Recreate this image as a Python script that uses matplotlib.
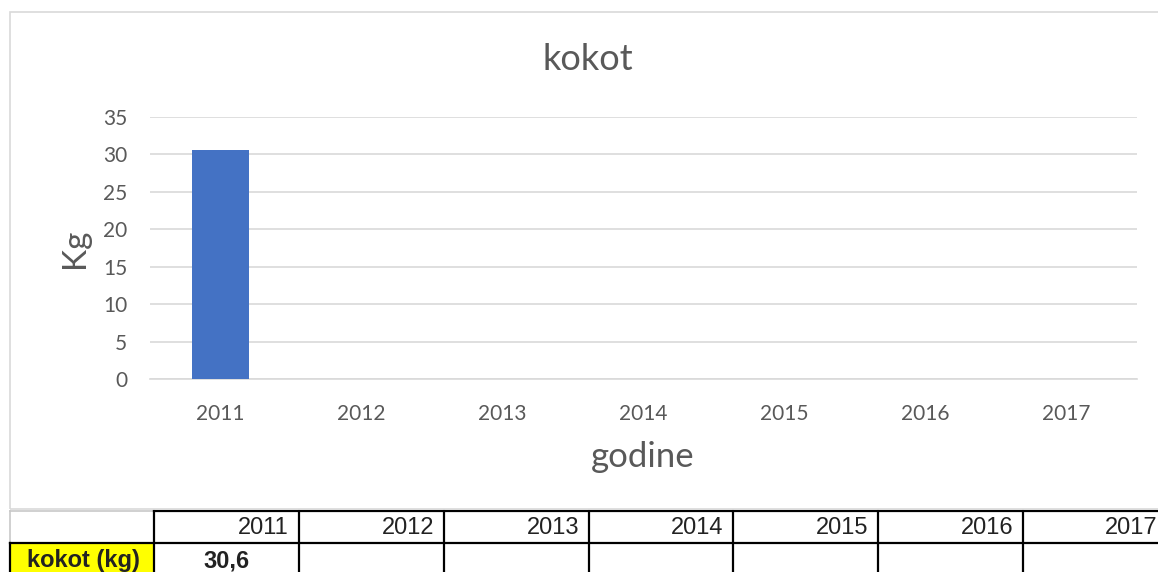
import matplotlib
matplotlib.use('Agg')
import matplotlib.pyplot as plt
from matplotlib.patches import Rectangle

# data
years = ['2011', '2012', '2013', '2014', '2015', '2016', '2017']
kokot_kg = [30.6, None, None, None, None, None, None]
title = 'kokot'
row_label = 'kokot (kg)'
y_ticks = [0, 5, 10, 15, 20, 25, 30, 35]

W, H = 1158, 572
fig = plt.figure(figsize=(W / 100, H / 100), dpi=100)
grey_txt = '#595959'
grid_c = '#d9d9d9'

# chart border (light grey box)
fig.patches.append(Rectangle((10 / W, (H - 509) / H), 1.2, (509 - 12) / H,
                             transform=fig.transFigure, fill=False,
                             edgecolor=grid_c, linewidth=1.2))

# plot area
x0, x1, ytop, ybot = 150, 1137, 117, 379
ax = fig.add_axes([x0 / W, (H - ybot) / H, (x1 - x0) / W, (ybot - ytop) / H])
xs = list(range(len(years)))
vals = [v if v is not None else 0 for v in kokot_kg]
ax.bar(xs, vals, width=0.4, color='#4472c4', zorder=3)
ax.set_xlim(-0.5, len(years) - 0.5)
ax.set_ylim(0, 35)
ax.set_yticks(y_ticks)
ax.set_xticks(xs)
ax.set_xticklabels(years)
ax.grid(axis='y', color=grid_c, linewidth=1.2, zorder=0)
for s in ['top', 'right', 'left']:
    ax.spines[s].set_visible(False)
ax.spines['bottom'].set_color(grid_c)
ax.spines['bottom'].set_linewidth(1.2)
ax.tick_params(length=0, labelsize=15, labelcolor=grey_txt)
ax.tick_params(axis='y', pad=16.5)
ax.tick_params(axis='x', pad=18)
for lab in ax.get_xticklabels() + ax.get_yticklabels():
    lab.set_fontfamily('Lato')

fig.text(588 / W, 1 - 60 / H, title, ha='center', va='center',
         fontsize=26, color=grey_txt, family='Lato')
fig.text(75 / W, 1 - 248 / H, 'Kg', ha='center', va='center', rotation=90,
         fontsize=24, color=grey_txt, family='Lato')
fig.text(643 / W, 1 - 457 / H, 'godine', ha='center', va='center',
         fontsize=25, color=grey_txt, family='Lato')

# table under chart
tax = fig.add_axes([0, 0, 1, 1])
tax.set_xlim(0, W)
tax.set_ylim(H, 0)
tax.axis('off')
col_edges = [10, 154, 299, 444, 589, 733, 878, 1023, 1168]
r_top, r_mid, r_bot = 511, 543, 577
tax.add_patch(Rectangle((col_edges[0], r_mid), col_edges[1] - col_edges[0], r_bot - r_mid,
                        facecolor='#ffff00', edgecolor='none', zorder=1))
# light grid around the empty corner cell
tax.plot([col_edges[0], col_edges[1]], [r_top, r_top], color='#c8c8c8', lw=1.2, zorder=2)
tax.plot([col_edges[0], col_edges[0]], [r_top, r_mid], color='#c8c8c8', lw=1.2, zorder=2)
# black cell borders
tax.plot([col_edges[1], col_edges[-1]], [r_top, r_top], color='black', lw=1.6, zorder=3)
tax.plot([col_edges[0], col_edges[-1]], [r_mid, r_mid], color='black', lw=1.6, zorder=3)
tax.plot([col_edges[0], col_edges[0]], [r_mid, r_bot], color='black', lw=1.6, zorder=3)
for xe in col_edges[1:]:
    tax.plot([xe, xe], [r_top, r_bot], color='black', lw=1.6, zorder=3)

for i, yr in enumerate(years):
    tax.text(col_edges[i + 2] - 10, 528, yr, ha='right', va='center',
             fontsize=17, color='#222222', family='Liberation Sans', zorder=4)
    v = kokot_kg[i]
    if v is not None:
        tax.text((col_edges[i + 1] + col_edges[i + 2]) / 2, 561,
                 f'{v:.1f}'.replace('.', ','), ha='center', va='center', fontsize=17,
                 fontweight='bold', color='#222222', family='Liberation Sans', zorder=4)
tax.text((col_edges[0] + col_edges[1]) / 2 + 1, 561, row_label,
         ha='center', va='center', fontsize=17, fontweight='bold', color='#222222',
         family='Liberation Sans', zorder=4)

fig.savefig('out.png', dpi=100)
